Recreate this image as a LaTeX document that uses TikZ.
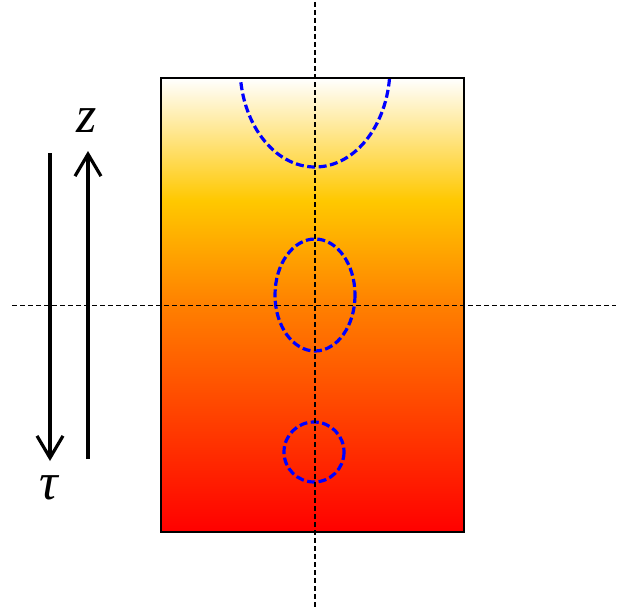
\documentclass[tikz,border=0pt]{standalone}
\usepackage{fontspec}
\setmainfont{Liberation Serif}
\usetikzlibrary{arrows.meta}
\definecolor{hmid}{RGB}{255,128,0}
\definecolor{hgold}{RGB}{255,200,0}
\pgfdeclareverticalshading{heat}{100bp}{color(0bp)=(red); color(25bp)=(red); color(50bp)=(hmid); color(61.5bp)=(hgold); color(75bp)=(white); color(100bp)=(white)}
\begin{document}
\begin{tikzpicture}[x=1pt,y=-1pt,
  axisline/.style={black,dashed,line width=1.4pt,dash pattern=on 5pt off 3pt},
  bluedash/.style={blue,line width=3.2pt,dash pattern=on 8pt off 3.5pt},
  bigarrow/.style={line width=3.2pt,-{Straight Barb[length=22pt,width=26pt,line width=3.2pt]}},
  lab/.style={font=\fontsize{52}{54}\selectfont\itshape,inner sep=0pt}]
\useasboundingbox (0,0) rectangle (626,610);
\coordinate (RTL) at (161,78);
\coordinate (RBR) at (464,532);
\shade[shading=heat] (RTL) rectangle (RBR);
% blue dashed shapes
\begin{scope}
  \clip (RTL) rectangle (RBR);
  \draw[bluedash] (315,67) ellipse [x radius=75, y radius=100];
\end{scope}
\draw[bluedash] (315,295) ellipse [x radius=40, y radius=56];
\draw[bluedash] (314,452) circle [radius=30];
% axes
\coordinate (VT) at (315,2);
\coordinate (VB) at (315,608);
\coordinate (HL) at (12,305.5);
\coordinate (HR) at (616,305.5);
\draw[axisline] (VT) -- (VB);
\draw[axisline] (HL) -- (HR);
\draw[black,line width=1.5pt] (RTL) rectangle (RBR);
% arrows
\coordinate (DA1) at (50,153);
\coordinate (DA2) at (50,461);
\coordinate (UA1) at (88,459);
\coordinate (UA2) at (88,151);
\draw[bigarrow] (DA1) -- (DA2);
\draw[bigarrow] (UA1) -- (UA2);
\node[lab] (zlab) at (87,121) {z};
\node[lab] (taulab) at (49,488) {τ};
\end{tikzpicture}
\end{document}
